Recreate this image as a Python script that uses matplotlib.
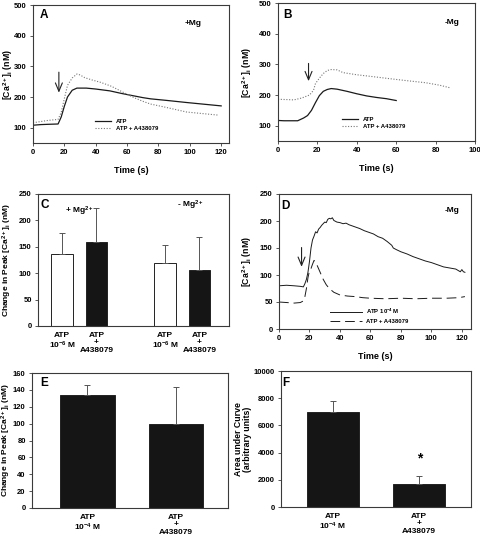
import numpy as np
import matplotlib
matplotlib.use('Agg')
import matplotlib.pyplot as plt

plt.rcParams['font.family'] = ['Liberation Sans', 'DejaVu Sans']
plt.rcParams['font.weight'] = 'bold'
plt.rcParams['axes.labelweight'] = 'bold'
plt.rcParams['mathtext.fontset'] = 'custom'
plt.rcParams['mathtext.rm'] = 'Liberation Sans:bold'
plt.rcParams['mathtext.it'] = 'Liberation Sans:bold'
plt.rcParams['mathtext.bf'] = 'Liberation Sans:bold'

# Panel A (+Mg) traces
a_t_atp = [0, 5, 10, 16, 18, 20, 22, 25, 28, 34, 40, 49, 57, 64, 70, 75, 85, 98, 110, 120]
a_atp = [108, 110, 111, 112, 135, 170, 200, 222, 229, 229, 226, 220, 211, 204, 198, 194, 189, 182, 176, 171]
a_t_drug = [0, 5, 10, 16, 18, 20, 22, 25, 28, 30, 33, 38, 43, 50, 58, 64, 70, 75, 85, 98, 108, 118]
a_drug = [116, 120, 124, 127, 150, 195, 238, 262, 275, 272, 263, 255, 248, 235, 214, 199, 186, 177, 166, 151, 146, 141]

# Panel B (-Mg) traces
b_t_atp = [0, 3, 10, 13, 15, 17, 19, 21, 23, 25, 27, 30, 35, 40, 45, 50, 55, 60]
b_atp = [117, 116, 116, 125, 133, 150, 175, 198, 212, 218, 221, 219, 212, 204, 197, 192, 188, 182]
b_t_drug = [0, 5, 8, 12, 16, 18, 19, 21, 23, 25, 27, 30, 33, 40, 48, 57, 65, 75, 82, 87]
b_drug = [186, 185, 184, 190, 200, 215, 237, 255, 270, 280, 283, 282, 273, 266, 260, 253, 247, 240, 232, 224]

# Panel D (-Mg) traces
d_t_atp = [0, 5, 10, 14, 16, 17, 18, 19, 20, 21, 22, 23, 24, 25, 26, 27, 28, 29, 30, 31, 32, 33,
           34, 35, 36, 38, 40, 42, 44, 46, 48, 50, 53, 56, 59, 62, 65, 68, 71, 74, 75, 77, 80, 84,
           88, 92, 96, 100, 104, 108, 112, 116, 119, 120, 121, 122]
d_atp = [80, 81, 80, 79, 78, 84, 92, 105, 125, 150, 165, 172, 180, 178, 185, 188, 192, 195, 198,
         197, 203, 205, 204, 206, 201, 198, 197, 195, 196, 193, 191, 189, 186, 182, 179, 176, 171,
         168, 162, 155, 150, 147, 143, 139, 134, 130, 126, 123, 119, 115, 113, 111, 106, 110, 106, 105]
d_t_drug = [0, 5, 10, 14, 16, 17, 18, 19, 20, 21, 22, 23, 24, 25, 27, 29, 31, 33, 36, 40, 45, 50,
            55, 60, 70, 80, 90, 100, 110, 118, 122]
d_drug = [50, 49, 48, 49, 52, 60, 75, 95, 108, 112, 120, 127, 124, 118, 105, 92, 82, 75, 68, 63,
          61, 60, 58, 57, 56, 57, 56, 57, 57, 58, 60]

# Panel C bars
c_labels = ['ATP\n10$^{-6}$ M', 'ATP\n+\nA438079', 'ATP\n10$^{-6}$ M', 'ATP\n+\nA438079']
c_means = [136, 159, 120, 107]
c_err = [41, 64, 33, 61]
c_colors = ['white', '#151515', 'white', '#151515']

# Panel E bars
e_labels = ['ATP\n10$^{-4}$ M', 'ATP\n+\nA438079']
e_means = [134, 99]
e_err = [12, 45]

# Panel F bars
f_labels = ['ATP\n10$^{-4}$ M', 'ATP\n+\nA438079']
f_means = [7000, 1670]
f_err = [790, 590]

W, H = 480, 540
fig = plt.figure(figsize=(4.8, 5.4), dpi=100)


def make_ax(l, r, t, b):
    ax = fig.add_axes([l / W, 1 - b / H, (r - l) / W, (b - t) / H])
    for s in ax.spines.values():
        s.set_color('#3a3a3a')
        s.set_linewidth(0.8)
    ax.tick_params(axis='both', direction='out', length=2.5, width=0.6, labelsize=5.5,
                   pad=2, color='#3a3a3a')
    ax.tick_params(top=False, right=False)
    return ax


def place_ylabel(ax, text, x, size=6.3):
    # center of the rotated label sits at x (axes fraction)
    ax.set_ylabel(text, fontsize=size, linespacing=1.0)
    ax.yaxis.set_label_coords(x, 0.5)
    ax.yaxis.label.set_verticalalignment('center')


ca_label = '[Ca$^{2+}$]$_{i}$ (nM)'
arrow = dict(arrowstyle='->,head_length=0.6,head_width=0.25', lw=0.8, color='#222222')

# ---- A
ax = make_ax(33, 229, 5, 143)
ax.plot(a_t_atp, a_atp, color='#1a1a1a', lw=0.9, label='ATP')
ax.plot(a_t_drug, a_drug, color='#777777', lw=0.8, ls=(0, (1, 1.5)), label='ATP + A438079')
ax.set_xlim(0, 125)
ax.set_ylim(50, 500)
ax.set_xticks(np.arange(0, 121, 20))
ax.set_yticks(np.arange(100, 501, 100))
ax.set_xlabel('Time (s)', fontsize=6.5, labelpad=7)
place_ylabel(ax, ca_label, -0.128)
ax.annotate('', xy=(16.5, 205), xytext=(16.5, 290), arrowprops=arrow)
ax.text(0.032, 0.928, 'A', transform=ax.transAxes, fontsize=8.5, va='center')
ax.text(0.776, 0.867, '+Mg', transform=ax.transAxes, fontsize=6, va='center')
ax.legend(loc='center left', bbox_to_anchor=(0.29, 0.13), frameon=False, fontsize=4.3,
          handlelength=2.6, labelspacing=0.4)

# ---- B
ax = make_ax(278, 475, 3, 141)
ax.plot(b_t_atp, b_atp, color='#1a1a1a', lw=0.9, label='ATP')
ax.plot(b_t_drug, b_drug, color='#777777', lw=0.8, ls=(0, (1, 1.5)), label='ATP + A438079')
ax.set_xlim(0, 100)
ax.set_ylim(50, 500)
ax.set_xticks(np.arange(0, 101, 20))
ax.set_yticks(np.arange(100, 501, 100))
ax.set_xlabel('Time (s)', fontsize=6.5, labelpad=7)
place_ylabel(ax, ca_label, -0.155)
ax.annotate('', xy=(15.5, 236), xytext=(15.5, 312), arrowprops=arrow)
ax.text(0.027, 0.913, 'B', transform=ax.transAxes, fontsize=8.5, va='center')
ax.text(0.848, 0.857, '-Mg', transform=ax.transAxes, fontsize=6, va='center')
ax.legend(loc='center left', bbox_to_anchor=(0.3, 0.13), frameon=False, fontsize=4.3,
          handlelength=2.6, labelspacing=0.4)

# ---- C
ax = make_ax(38, 229, 194, 326)
c_pos = [0, 1, 3, 4]
ax.bar(c_pos, c_means, width=0.62, color=c_colors, edgecolor='#222222', linewidth=0.7)
ax.errorbar(c_pos, c_means, yerr=[[0] * 4, c_err], fmt='none', ecolor='#555555',
            elinewidth=0.7, capsize=2.2, capthick=0.7)
ax.set_xlim(-0.7, 4.86)
ax.set_ylim(0, 250)
ax.set_yticks(np.arange(0, 251, 50))
ax.set_xticks(c_pos)
ax.set_xticklabels(c_labels, fontsize=6, linespacing=1.1)
ax.tick_params(axis='x', length=0, pad=4)
place_ylabel(ax, 'Change in Peak [Ca$^{2+}$]$_{i}$ (nM)', -0.163, size=6)
ax.text(0.015, 0.917, 'C', transform=ax.transAxes, fontsize=8.5, va='center')
ax.text(0.143, 0.866, '+ Mg$^{2+}$', transform=ax.transAxes, fontsize=6, va='center')
ax.text(0.728, 0.917, '- Mg$^{2+}$', transform=ax.transAxes, fontsize=6, va='center')

# ---- D
ax = make_ax(279, 471, 194, 329)
ax.plot(d_t_atp, d_atp, color='#1a1a1a', lw=0.7, label='ATP 10$^{-4}$ M')
ax.plot(d_t_drug, d_drug, color='#1a1a1a', lw=0.7, ls=(0, (10, 5)), label='ATP + A438079')
ax.set_xlim(0, 126)
ax.set_ylim(0, 250)
ax.set_xticks(np.arange(0, 121, 20))
ax.set_yticks(np.arange(0, 251, 50))
ax.set_xlabel('Time (s)', fontsize=6.5, labelpad=7)
place_ylabel(ax, ca_label, -0.165)
ax.annotate('', xy=(14.8, 110), xytext=(14.8, 156), arrowprops=arrow)
ax.text(0.01, 0.911, 'D', transform=ax.transAxes, fontsize=8.5, va='center')
ax.text(0.865, 0.881, '-Mg', transform=ax.transAxes, fontsize=6, va='center')
ax.legend(loc='center left', bbox_to_anchor=(0.24, 0.1), frameon=False, fontsize=4.3,
          handlelength=5.2, labelspacing=0.5)

# ---- E
ax = make_ax(32, 228, 373, 508)
ax.bar([0, 1], e_means, width=0.615, color='#151515', edgecolor='#222222', linewidth=0.7)
ax.errorbar([0, 1], e_means, yerr=[[0, 0], e_err], fmt='none', ecolor='#555555',
            elinewidth=0.7, capsize=2.2, capthick=0.7)
ax.set_xlim(-0.629, 1.593)
ax.set_ylim(0, 160)
ax.set_yticks(np.arange(0, 161, 20))
ax.set_xticks([0, 1])
ax.set_xticklabels(e_labels, fontsize=6, linespacing=1.1)
ax.tick_params(axis='x', length=0, pad=4)
place_ylabel(ax, 'Change in Peak [Ca$^{2+}$]$_{i}$ (nM)', -0.13, size=6)
ax.text(0.04, 0.928, 'E', transform=ax.transAxes, fontsize=8.5, va='center')

# ---- F
ax = make_ax(281, 471, 371, 507)
ax.bar([0, 1], f_means, width=0.606, color='#151515', edgecolor='#222222', linewidth=0.7)
ax.errorbar([0, 1], f_means, yerr=[[0, 0], f_err], fmt='none', ecolor='#555555',
            elinewidth=0.7, capsize=2.2, capthick=0.7)
ax.set_xlim(-0.601, 1.599)
ax.set_ylim(0, 10000)
ax.set_yticks(np.arange(0, 10001, 2000))
ax.set_xticks([0, 1])
ax.set_xticklabels(f_labels, fontsize=6, linespacing=1.1)
ax.tick_params(axis='x', length=0, pad=4)
place_ylabel(ax, 'Area under Curve\n(arbitrary units)', -0.2)
ax.text(1, f_means[1] + f_err[1] + 1300, '*', ha='center', va='center', fontsize=10)
ax.text(0.009, 0.91, 'F', transform=ax.transAxes, fontsize=8.5, va='center')

fig.savefig('out.png', dpi=100)
